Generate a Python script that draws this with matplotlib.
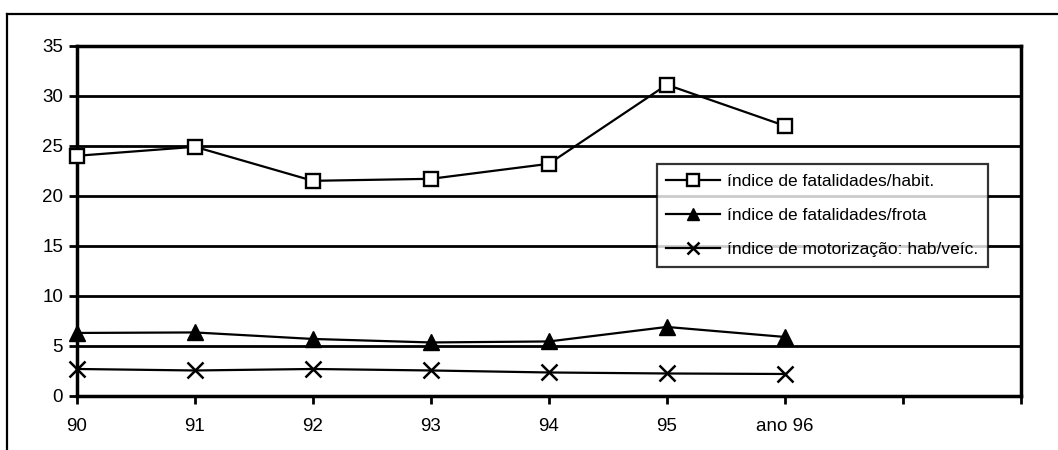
import matplotlib
matplotlib.use("Agg")
import matplotlib.pyplot as plt
from matplotlib.lines import Line2D

categories = ["90", "91", "92", "93", "94", "95", "ano 96", "", ""]
fatal_habit = [24.0, 24.9, 21.5, 21.7, 23.2, 31.1, 27.0]
fatal_frota = [6.3, 6.35, 5.7, 5.35, 5.45, 6.9, 5.9]
motoriz = [2.7, 2.55, 2.7, 2.55, 2.35, 2.25, 2.2]
labels = ["índice de fatalidades/habit.", "índice de fatalidades/frota",
          "índice de motorização: hab/veíc."]

plt.rcParams["font.family"] = ["Liberation Sans", "DejaVu Sans"]

fig = plt.figure(figsize=(10.58, 4.5), dpi=100)
ax = fig.add_axes([77/1058, 1-396/450, (1020.7-77)/1058, (396-45.7)/450])

x = list(range(len(fatal_habit)))
ax.plot(x, fatal_habit, color="black", lw=1.6, marker="s", ms=9.5,
        mfc="white", mec="black", mew=1.7, label=labels[0], zorder=5, clip_on=False)
ax.plot(x, fatal_frota, color="black", lw=1.6, marker="^", ms=11,
        mfc="black", mec="black", label=labels[1], zorder=5, clip_on=False)
ax.plot(x, motoriz, color="black", lw=1.6, marker="x", ms=11,
        mew=1.8, label=labels[2], zorder=5, clip_on=False)

ax.set_xlim(0, len(categories) - 1)
ax.set_ylim(0, 35)
ax.set_xticks(range(len(categories)))
ax.set_xticklabels(categories)
ax.set_yticks(range(0, 36, 5))
ax.yaxis.grid(True, color="black", lw=2)
ax.set_axisbelow(True)
for s in ax.spines.values():
    s.set_linewidth(2.5)
    s.set_color("black")
ax.tick_params(axis="both", direction="out", length=6, width=2, labelsize=13.5,
               colors="black")
ax.tick_params(axis="x", pad=10)
ax.tick_params(axis="y", pad=4)

leg = ax.legend(loc="upper left", bbox_to_anchor=(656.7/1058, 1-164/450),
                bbox_transform=fig.transFigure, borderaxespad=0,
                frameon=True, fancybox=False, edgecolor="black", fontsize=12.5,
                handlelength=3.1, handletextpad=0.4, labelspacing=1.1,
                borderpad=0.55, markerscale=0.85)
leg.get_frame().set_linewidth(1.6)
leg.set_zorder(10)

fig.add_artist(Line2D([7/1058, 1], [1-14/450, 1-14/450], color="black", lw=1.6,
                      transform=fig.transFigure))
fig.add_artist(Line2D([7/1058, 7/1058], [0, 1-14/450], color="black", lw=1.6,
                      transform=fig.transFigure))

fig.savefig("out.png", dpi=100)
